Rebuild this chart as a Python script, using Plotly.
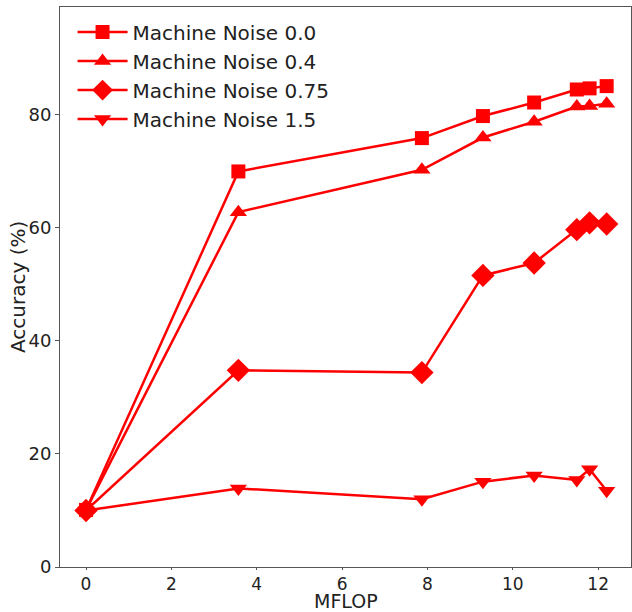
import plotly.graph_objects as go

mflop = [0, 3.57, 7.87, 9.3, 10.5, 11.5, 11.8, 12.2]
noise_00 = [10.1, 70.0, 75.9, 79.8, 82.2, 84.5, 84.7, 85.1]
noise_04 = [10.1, 62.8, 70.3, 76.0, 78.8, 81.5, 81.6, 82.0]
noise_075 = [10.0, 34.8, 34.4, 51.6, 53.8, 59.7, 60.9, 60.7]
noise_15 = [10.0, 13.9, 12.0, 15.1, 16.2, 15.4, 17.3, 13.5]

series = [
    ("Machine Noise 0.0", noise_00, "square", 14),
    ("Machine Noise 0.4", noise_04, "triangle-up", 15),
    ("Machine Noise 0.75", noise_075, "diamond", 18),
    ("Machine Noise 1.5", noise_15, "triangle-down", 15),
]

fig = go.Figure()
for name, vals, sym, sz in series:
    fig.add_trace(go.Scatter(
        x=mflop, y=vals, name=name, mode="lines+markers",
        line=dict(color="#ff0000", width=2.5),
        marker=dict(symbol=sym, size=sz, color="#ff0000"),
    ))

axis_common = dict(
    showgrid=False, zeroline=False, showline=True, mirror=True,
    linecolor="#555555", linewidth=1, ticks="outside", ticklen=4,
    tickcolor="#555555", tickfont=dict(size=18, color="#222222"),
    automargin=False,
)

fig.update_layout(
    width=632, height=612,
    margin=dict(l=60, r=1, t=7, b=45, autoexpand=False),
    paper_bgcolor="white", plot_bgcolor="white",
    font=dict(family="DejaVu Sans", color="#222222"),
    showlegend=True,
    legend=dict(x=0.022, y=0.99, xanchor="left", yanchor="top",
                font=dict(size=20), bgcolor="rgba(255,255,255,0)",
                itemwidth=50, tracegroupgap=0),
    xaxis=dict(range=[-0.61, 12.77], tickvals=[0, 2, 4, 6, 8, 10, 12],
               ticklen=2, tickfont=dict(size=17, color="#222222"),
               **{k: v for k, v in axis_common.items() if k not in ("ticklen", "tickfont")}),
    yaxis=dict(range=[0, 99.1], tickvals=[0, 20, 40, 60, 80],
               **axis_common),
    annotations=[
        dict(text="MFLOP", x=0.5, y=-0.0, xref="paper", yref="paper",
             yshift=-34, xanchor="center", yanchor="middle",
             showarrow=False, font=dict(size=19)),
        dict(text="Accuracy (%)", x=0, y=0.5, xref="paper", yref="paper",
             xshift=-42, xanchor="center", yanchor="middle", textangle=-90,
             showarrow=False, font=dict(size=20)),
    ],
)

fig.write_html("out.html", config={"displayModeBar": False},
               post_script="document.body.style.margin='0';document.body.style.overflow='hidden';")
